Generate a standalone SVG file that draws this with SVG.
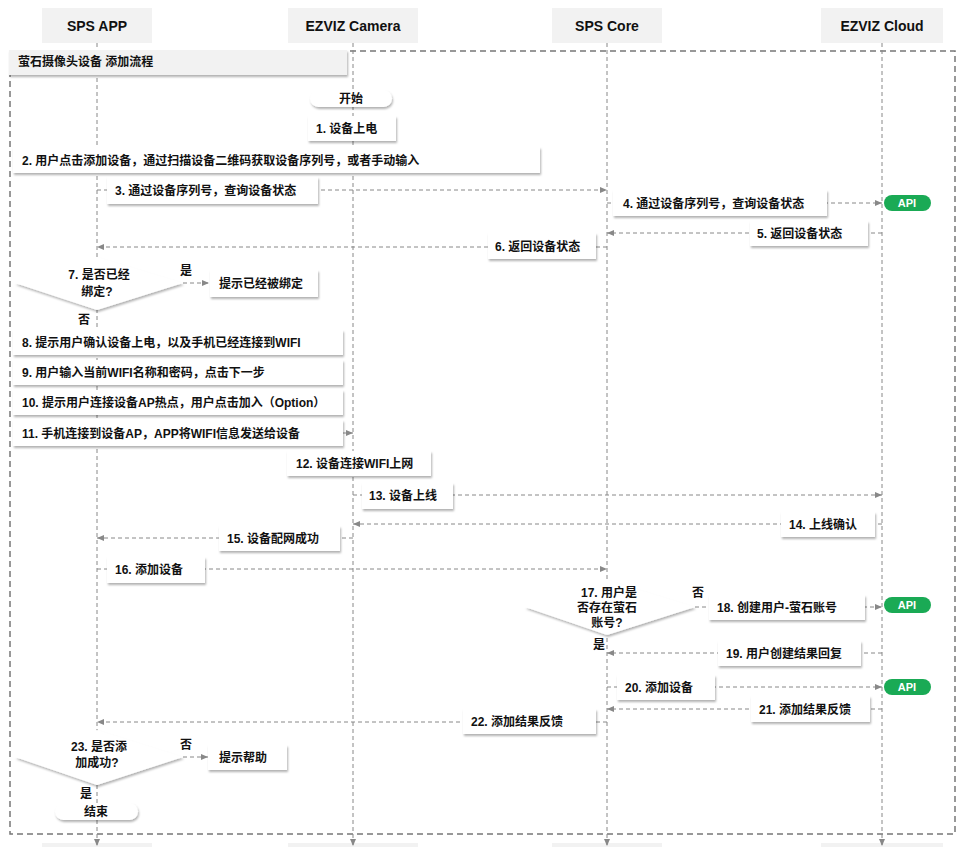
<svg xmlns="http://www.w3.org/2000/svg" width="965" height="847" viewBox="0 0 965 847">
<style>
text{font-family:"Liberation Sans","Noto Sans CJK SC",sans-serif;font-size:12px;fill:#111;font-weight:bold}
.h{font-size:14px;text-anchor:middle}
.hd{fill:#f2f2f2}
.b{fill:#fff;filter:url(#sh)}
.c{stroke:#888;stroke-dasharray:4,3;fill:none;marker-end:url(#a)}
.api{fill:#1aaa55}
.at{fill:#fff;font-weight:bold;font-size:11px;text-anchor:middle}
.m{text-anchor:middle}
</style>
<defs>
<filter id="sh" x="-10%" y="-20%" width="130%" height="160%"><feDropShadow dx="1" dy="2" stdDeviation="1.2" flood-color="#000" flood-opacity="0.3"/></filter>
<marker id="a" markerWidth="8" markerHeight="8" refX="7" refY="4" orient="auto" markerUnits="userSpaceOnUse"><path d="M0,1 L7,4 L0,7z" fill="#888"/></marker>
</defs>
<rect width="965" height="847" fill="#fff"/>
<g id="headers">
<rect class="hd" x="42" y="8" width="110" height="35"/><text class="h" x="97" y="31">SPS APP</text>
<rect class="hd" x="288" y="8" width="130" height="35"/><text class="h" x="353" y="31">EZVIZ Camera</text>
<rect class="hd" x="552" y="8" width="110" height="35"/><text class="h" x="607" y="31">SPS Core</text>
<rect class="hd" x="821" y="8" width="122" height="35"/><text class="h" x="882" y="31">EZVIZ Cloud</text>
<rect class="hd" x="42" y="843" width="110" height="10"/><rect class="hd" x="288" y="843" width="130" height="10"/>
<rect class="hd" x="552" y="843" width="110" height="10"/><rect class="hd" x="821" y="843" width="122" height="10"/>
</g>
<rect x="10" y="51" width="945" height="783" fill="none" stroke="#777" stroke-width="1.5" stroke-dasharray="6,4"/>
<g id="lifelines">
<path class="c" d="M97,43 V846"/><path class="c" d="M353,43 V846"/><path class="c" d="M607,43 V846"/><path class="c" d="M882,43 V846"/>
</g>
<g id="title"><rect x="9" y="50" width="338" height="25" fill="#f2f2f2" filter="url(#sh)"/><text x="18" y="66">萤石摄像头设备 添加流程</text></g>
<g id="connectors">
<path class="c" d="M97,190 H607"/>
<path class="c" d="M607,203 H882"/>
<path class="c" d="M882,233 H607"/>
<path class="c" d="M607,247 H97"/>
<path class="c" d="M183,283 H209"/>
<path class="c" d="M97,433 H353"/>
<path class="c" d="M353,495 H882"/>
<path class="c" d="M882,524 H353"/>
<path class="c" d="M353,538 H97"/>
<path class="c" d="M97,569 H607"/>
<path class="c" d="M695,607 H882"/>
<path class="c" d="M882,653 H607"/>
<path class="c" d="M607,687 H882"/>
<path class="c" d="M882,709 H607"/>
<path class="c" d="M607,722 H97"/>
<path class="c" d="M183,757 H208"/>
</g>
<g id="start"><rect class="b" x="310" y="90" width="82" height="17" rx="8.5"/><text class="m" x="351" y="103">开始</text></g>
<g id="n1"><rect class="b" x="308" y="116" width="88" height="25"/><text x="316" y="133">1. 设备上电</text></g>
<g id="n2"><rect class="b" x="13" y="147" width="527" height="26"/><text x="22" y="165">2. 用户点击添加设备，通过扫描设备二维码获取设备序列号，或者手动输入</text></g>
<g id="n3"><rect class="b" x="107" y="177" width="211" height="27"/><text x="115" y="195">3. 通过设备序列号，查询设备状态</text></g>
<g id="n4"><rect class="b" x="613" y="190" width="214" height="26"/><text x="623" y="208">4. 通过设备序列号，查询设备状态</text></g>
<g id="api1"><rect class="api" x="884" y="195" width="47" height="16" rx="8"/><text class="at" x="907" y="207">API</text></g>
<g id="n5"><rect class="b" x="750" y="221" width="118" height="25"/><text x="757" y="238">5. 返回设备状态</text></g>
<g id="n6"><rect class="b" x="488" y="233" width="108" height="26"/><text x="495" y="251">6. 返回设备状态</text></g>
<g id="d7"><path class="b" d="M97,257 L183,283 L97,310 L15,283z"/><text class="m" x="99" y="279">7. 是否已经</text><text class="m" x="97" y="296">绑定?</text></g>
<text x="180" y="275">是</text>
<g id="n7b"><rect class="b" x="210" y="270" width="108" height="27"/><text x="219" y="288">提示已经被绑定</text></g>
<text x="78" y="324">否</text>
<g id="n8"><rect class="b" x="13" y="330" width="330" height="25"/><text x="22" y="347">8. 提示用户确认设备上电，以及手机已经连接到WIFI</text></g>
<g id="n9"><rect class="b" x="13" y="360" width="330" height="25"/><text x="22" y="377">9. 用户输入当前WIFI名称和密码，点击下一步</text></g>
<g id="n10"><rect class="b" x="13" y="390" width="330" height="25"/><text x="22" y="407">10. 提示用户连接设备AP热点，用户点击加入（Option）</text></g>
<g id="n11"><rect class="b" x="13" y="420" width="330" height="26"/><text x="22" y="438">11. 手机连接到设备AP，APP将WIFI信息发送给设备</text></g>
<g id="n12"><rect class="b" x="287" y="451" width="144" height="25"/><text x="296" y="468">12. 设备连接WIFI上网</text></g>
<g id="n13"><rect class="b" x="362" y="483" width="91" height="26"/><text x="369" y="500">13. 设备上线</text></g>
<g id="n14"><rect class="b" x="781" y="512" width="94" height="25"/><text x="789" y="529">14. 上线确认</text></g>
<g id="n15"><rect class="b" x="219" y="526" width="121" height="25"/><text x="227" y="543">15. 设备配网成功</text></g>
<g id="n16"><rect class="b" x="107" y="557" width="98" height="26"/><text x="115" y="574">16. 添加设备</text></g>
<g id="d17"><path class="b" d="M607,580 L695,607 L607,635 L525,607z"/><text class="m" x="609" y="597">17. 用户是</text><text class="m" x="607" y="612">否存在萤石</text><text class="m" x="607" y="627">账号?</text></g>
<text x="692" y="597">否</text>
<g id="n18"><rect class="b" x="709" y="595" width="156" height="25"/><text x="717" y="612">18. 创建用户-萤石账号</text></g>
<g id="api2"><rect class="api" x="884" y="597" width="47" height="16" rx="8"/><text class="at" x="907" y="609">API</text></g>
<text x="593" y="649">是</text>
<g id="n19"><rect class="b" x="718" y="641" width="143" height="25"/><text x="726" y="658">19. 用户创建结果回复</text></g>
<g id="n20"><rect class="b" x="617" y="675" width="98" height="25"/><text x="625" y="692">20. 添加设备</text></g>
<g id="api3"><rect class="api" x="884" y="679" width="47" height="16" rx="8"/><text class="at" x="907" y="691">API</text></g>
<g id="n21"><rect class="b" x="751" y="696" width="119" height="26"/><text x="759" y="714">21. 添加结果反馈</text></g>
<g id="n22"><rect class="b" x="463" y="709" width="133" height="25"/><text x="471" y="726">22. 添加结果反馈</text></g>
<g id="d23"><path class="b" d="M97,730 L183,757 L97,785 L15,757z"/><text class="m" x="99" y="751">23. 是否添</text><text class="m" x="97" y="767">加成功?</text></g>
<text x="180" y="749">否</text>
<g id="n23b"><rect class="b" x="208" y="745" width="79" height="25"/><text x="219" y="762">提示帮助</text></g>
<text x="80" y="798">是</text>
<g id="end"><rect class="b" x="55" y="803" width="83" height="17" rx="8.5"/><text class="m" x="96" y="816">结束</text></g>
</svg>
